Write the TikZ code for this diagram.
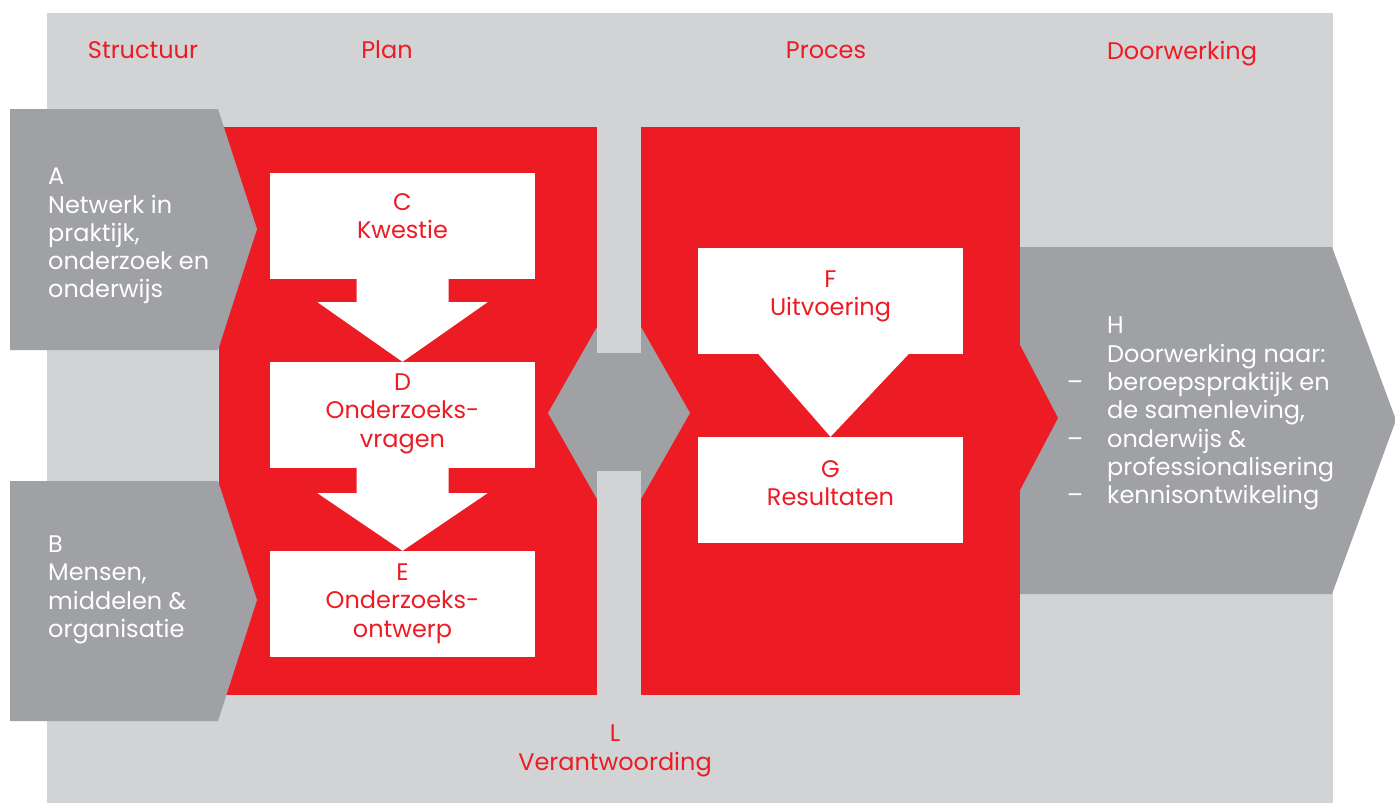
\documentclass[tikz,border=0pt]{standalone}
\usepackage{fontspec}
\setmainfont{Poppins}
\usetikzlibrary{positioning}

\definecolor{kaderGrijs}{RGB}{209,211,212}
\definecolor{pijlGrijs}{RGB}{160,161,165}
\definecolor{kaderRood}{RGB}{237,28,36}

\begin{document}
\begin{tikzpicture}[x=1pt,y=-1pt,
	kop/.style={text=kaderRood,inner sep=0pt,text depth=0pt,font=\fontsize{24}{28.3}\selectfont},
	rood/.style={kop,align=center},
	wit/.style={text=white,align=left,inner sep=0pt,text depth=0pt,font=\fontsize{24}{28.3}\selectfont},
	vak/.style={fill=white,inner sep=0pt,minimum width=265pt,minimum height=106pt}]

	\useasboundingbox (0,0) rectangle (1395,803);
	% Background %
	\fill [kaderGrijs] (47,13) rectangle (1333,803);
	% Red panels %
	\fill [kaderRood] (219,127) rectangle (597,695);
	\fill [kaderRood] (641,127) rectangle (1020,695);
	% Side arrows %
	\fill [pijlGrijs] (10,109) -- (218,109) -- (257,229) -- (218,350) -- (10,350) -- cycle;
	\fill [pijlGrijs] (10,481) -- (218,481) -- (257,600) -- (218,721) -- (10,721) -- cycle;
	\fill [pijlGrijs] (1020,247) -- (1332,247) -- (1396,420) -- (1332,594) -- (1020,594) -- cycle;
	\fill [kaderRood] (1019,343) -- (1058,418) -- (1019,492) -- cycle;
	% Middle link %
	\fill [pijlGrijs] (548,413) -- (597,327) -- (641,327) -- (690,413) -- (641,499) -- (597,499) -- cycle;
	\fill [kaderGrijs] (597,127) rectangle (641,353);
	\fill [kaderGrijs] (597,471) rectangle (641,695);
	% Boxes %
	\node [vak] (C) at (402.5,226) {};
	\node [vak] (D) at (402.5,415) {};
	\node [vak] (E) at (402.5,604) {};
	\node [vak] (F) at (830.5,301) {};
	\node [vak] (G) at (830.5,490) {};
	% Block arrows %
	\fill [white] ([xshift=-46pt]C.south) -- ([xshift=-46pt,yshift=-23pt]C.south) -- ([xshift=-85pt,yshift=-23pt]C.south) -- (D.north)
		-- ([xshift=85pt,yshift=-23pt]C.south) -- ([xshift=46pt,yshift=-23pt]C.south) -- ([xshift=46pt]C.south) -- cycle;
	\fill [white] ([xshift=-46pt]D.south) -- ([xshift=-46pt,yshift=-25pt]D.south) -- ([xshift=-85pt,yshift=-25pt]D.south) -- (E.north)
		-- ([xshift=85pt,yshift=-25pt]D.south) -- ([xshift=46pt,yshift=-25pt]D.south) -- ([xshift=46pt]D.south) -- cycle;
	\fill [white] ([xshift=-72pt]F.south) -- (G.north) -- ([xshift=78pt]F.south) -- cycle;
	% Headers %
	\node [kop] (structuur) at (143,50) {Structuur};
	\node [kop] (plan) at (387,50) {Plan};
	\node [kop] (proces) at (826,50) {Proces};
	\node [kop] (doorwerking) at (1182,50) {Doorwerking};
	% Texts %
	\node [rood] (Ctekst) at (402.5,216) {C\\Kwestie};
	\node [rood] (Dtekst) at (402.5,410.5) {D\\Onderzoeks-\\vragen};
	\node [rood] (Etekst) at (402.5,600.5) {E\\Onderzoeks-\\ontwerp};
	\node [rood] (Ftekst) at (830.5,293) {F\\Uitvoering};
	\node [rood] (Gtekst) at (830.5,483) {G\\Resultaten};
	\node [rood] (Ltekst) at (615,747.5) {L\\Verantwoording};
	\node [wit,anchor=west] (Atekst) at (48,233) {A\\Netwerk in\\praktijk,\\onderzoek en\\onderwijs};
	\node [wit,anchor=west] (Btekst) at (48,586.5) {B\\Mensen,\\middelen \&\\organisatie};
	\node [wit,anchor=west] (Htekst) at (1107,410.5) {H\\Doorwerking naar:\\\llap{–\hspace{24pt}}beroepspraktijk en\\de samenleving,\\\llap{–\hspace{24pt}}onderwijs \&\\professionalisering\\\llap{–\hspace{24pt}}kennisontwikeling};
\end{tikzpicture}
\end{document}
